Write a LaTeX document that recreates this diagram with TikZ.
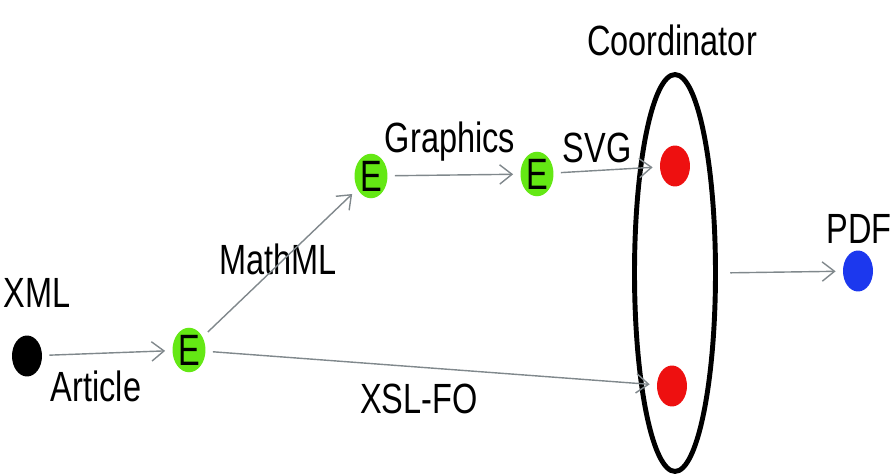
\documentclass[tikz,border=0pt]{standalone}
\usepackage{fontspec}
\setmainfont{Liberation Sans}
\usetikzlibrary{arrows.meta,shapes.geometric}
\definecolor{egreen}{RGB}{100,232,20}
\definecolor{cred}{RGB}{238,16,16}
\definecolor{pblue}{RGB}{28,56,238}
\definecolor{edgegray}{RGB}{128,136,140}

\begin{document}
\begin{tikzpicture}[x=0.02cm,y=-0.02cm,>={Straight Barb[length=7pt,width=11pt]},
  lbl/.style={font=\fontsize{18.5}{22}\selectfont,yscale=1.3,inner sep=0pt},
  enode/.style={circle,fill=egreen,minimum size=0.66cm,inner sep=0pt,
    font=\fontsize{18.5}{22}\selectfont,yscale=1.35},
  dot/.style={ellipse,minimum width=0.6cm,minimum height=0.82cm,inner sep=0pt},
  flow/.style={->,draw=edgegray,line width=0.8pt,shorten <=4pt,shorten >=4pt}]
\useasboundingbox (0,0) rectangle (894,476);
\node[dot,fill=black] (xml) at (27,356) {};
\node[enode] (e1) at (189,350) {E};
\node[enode] (e2) at (371,176) {E};
\node[enode] (e3) at (537,174) {E};
\node[draw,ellipse,line width=2.8pt,minimum width=1.62cm,minimum height=7.94cm,inner sep=0pt] (coord) at (675,273) {};
\node[dot,fill=cred] (svgin) at (675,166) {};
\node[dot,fill=cred] (foin) at (672,386) {};
\node[dot,fill=pblue] (pdf) at (858,271) {};
\node[lbl] (xmllbl) at (37,293) {XML};
\node[lbl] (artlbl) at (96,386) {Article};
\node[lbl] (mathlbl) at (278,259) {MathML};
\node[lbl] (graphlbl) at (450,142) {Graphics};
\node[lbl] (svglbl) at (597,148) {SVG};
\node[lbl] (folbl) at (419,399) {XSL-FO};
\node[lbl] (coordlbl) at (672,40) {Coordinator};
\node[lbl] (pdflbl) at (859,229) {PDF};
\draw[flow] (xml) -- (e1);
\draw[flow] (e1) -- (e2);
\draw[flow] (e2) -- (e3);
\draw[flow] (e3) -- (svgin);
\draw[flow] (e1) -- (foin);
\draw[flow,shorten <=7pt] (coord.east) -- (pdf);
\end{tikzpicture}
\end{document}
